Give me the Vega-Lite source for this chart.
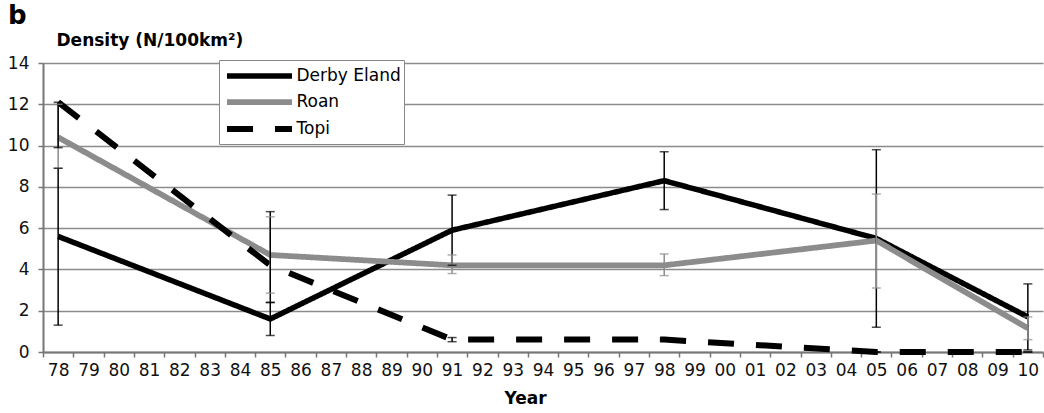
{
  "$schema": "https://vega.github.io/schema/vega-lite/v6.json",
  "width": 1000,
  "height": 289,
  "autosize": {"type": "none"},
  "padding": {"left": 43, "top": 63, "right": 1, "bottom": 61},
  "background": "white",
  "title": {"text": "b", "anchor": "start", "frame": "group", "dx": -35, "fontSize": 26, "font": "DejaVu Sans", "fontWeight": "bold", "color": "black", "offset": 2},
  "config": {
    "view": {"stroke": null},
    "font": "DejaVu Sans"
  },
  "data": {"values": [
    {"year": "78", "series": "Derby Eland", "value": 5.6, "lo": 1.3, "hi": 8.9},
    {"year": "85", "series": "Derby Eland", "value": 1.6, "lo": 0.8, "hi": 2.4},
    {"year": "91", "series": "Derby Eland", "value": 5.9, "lo": 4.2, "hi": 7.6},
    {"year": "98", "series": "Derby Eland", "value": 8.3, "lo": 6.9, "hi": 9.7},
    {"year": "05", "series": "Derby Eland", "value": 5.5, "lo": 1.2, "hi": 9.8},
    {"year": "10", "series": "Derby Eland", "value": 1.7, "lo": 0.1, "hi": 3.3},
    {"year": "78", "series": "Roan", "value": 10.4, "lo": 8.9, "hi": 12.0},
    {"year": "85", "series": "Roan", "value": 4.7, "lo": 2.85, "hi": 6.55},
    {"year": "91", "series": "Roan", "value": 4.2, "lo": 3.8, "hi": 4.7},
    {"year": "98", "series": "Roan", "value": 4.2, "lo": 3.7, "hi": 4.75},
    {"year": "05", "series": "Roan", "value": 5.4, "lo": 3.1, "hi": 7.65},
    {"year": "10", "series": "Roan", "value": 1.15, "lo": 0.6, "hi": 1.7},
    {"year": "78", "series": "Topi", "value": 12.1, "lo": 9.9, "hi": 12.1},
    {"year": "85", "series": "Topi", "value": 4.2, "lo": 2.4, "hi": 6.8},
    {"year": "91", "series": "Topi", "value": 0.6, "lo": 0.5, "hi": 0.7},
    {"year": "98", "series": "Topi", "value": 0.6, "lo": 0.55, "hi": 0.65},
    {"year": "05", "series": "Topi", "value": 0.0, "lo": 0.0, "hi": 0.0},
    {"year": "10", "series": "Topi", "value": 0.0, "lo": 0.0, "hi": 0.0}
  ]},
  "encoding": {
    "x": {
      "field": "year", "type": "ordinal",
      "scale": {"domain": ["78","79","80","81","82","83","84","85","86","87","88","89","90","91","92","93","94","95","96","97","98","99","00","01","02","03","04","05","06","07","08","09","10"], "paddingInner": 0, "paddingOuter": 0},
      "axis": {
        "title": "Year", "titleFont": "DejaVu Sans", "titleFontSize": 17, "titleFontWeight": "bold", "titleColor": "black",
        "titleX": 482, "titleY": 51, "titleBaseline": "alphabetic", "titleAnchor": null,
        "labelAngle": 0, "labelFont": "DejaVu Sans", "labelFontSize": 17, "labelColor": "#111",
        "labelPadding": 5, "tickBand": "extent", "tickSize": 5, "tickColor": "#777", "tickWidth": 1.5,
        "domainColor": "#777", "domainWidth": 2, "grid": false
      }
    }
  },
  "layer": [
    {
      "mark": {"type": "line", "strokeJoin": "round", "strokeCap": "butt"},
      "encoding": {
        "y": {
          "field": "value", "type": "quantitative",
          "scale": {"domain": [0, 14], "nice": false},
          "axis": {
            "values": [0,2,4,6,8,10,12,14],
            "title": "Density (N/100km²)", "titleAngle": 0, "titleAlign": "left", "titleBaseline": "alphabetic",
            "titleX": 13, "titleY": -18, "titleFont": "DejaVu Sans", "titleFontSize": 17, "titleFontWeight": "bold", "titleColor": "black",
            "labelFont": "DejaVu Sans", "labelFontSize": 17, "labelColor": "#111", "labelPadding": 9,
            "tickSize": 5, "tickColor": "#777", "tickWidth": 1.5,
            "domainColor": "#777", "domainWidth": 2,
            "grid": true, "gridColor": "#8c8c8c", "gridWidth": 1.5
          }
        },
        "color": {
          "field": "series", "type": "nominal",
          "scale": {"domain": ["Derby Eland", "Roan", "Topi"], "range": ["#000000", "#8c8c8c", "#000000"]},
          "legend": {
            "title": null, "orient": "none", "legendX": 176, "legendY": -3,
            "fillColor": "white", "strokeColor": "#888", "padding": 3,
            "symbolType": "M-3.25,0H3.25", "symbolSize": 400, "symbolOffset": 24.5,
            "labelFont": "DejaVu Sans", "labelFontSize": 17,
            "labelColor": "black", "labelOffset": 24, "rowPadding": 2
          }
        },
        "strokeDash": {
          "field": "series", "type": "nominal",
          "scale": {"domain": ["Derby Eland", "Roan", "Topi"], "range": [[1, 0], [1, 0], [26, 22]]}
        },
        "strokeWidth": {
          "field": "series", "type": "nominal",
          "scale": {"domain": ["Derby Eland", "Roan", "Topi"], "range": [5.5, 6, 5.5]}
        }
      }
    },
    {
      "mark": {"type": "rule", "strokeWidth": 1.5},
      "encoding": {
        "y": {"field": "lo", "type": "quantitative"},
        "y2": {"field": "hi"},
        "color": {"field": "series", "type": "nominal", "legend": null}
      }
    },
    {
      "mark": {"type": "tick", "thickness": 1.5, "size": 9},
      "encoding": {
        "y": {"field": "lo", "type": "quantitative"},
        "color": {"field": "series", "type": "nominal", "legend": null}
      }
    },
    {
      "mark": {"type": "tick", "thickness": 1.5, "size": 9},
      "encoding": {
        "y": {"field": "hi", "type": "quantitative"},
        "color": {"field": "series", "type": "nominal", "legend": null}
      }
    }
  ]
}
